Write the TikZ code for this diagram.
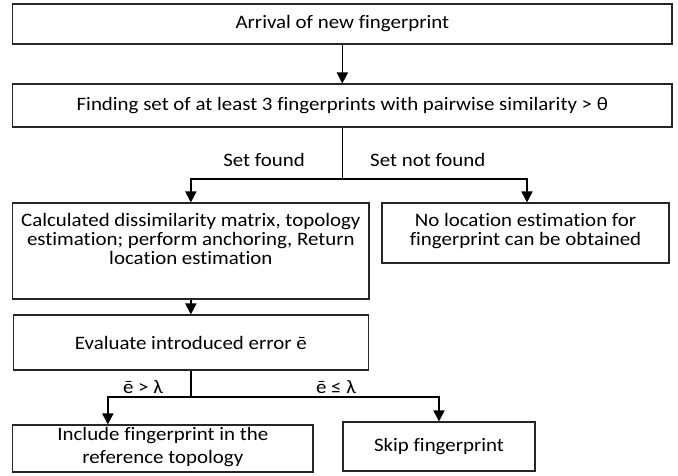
\documentclass[tikz,border=0pt]{standalone}
\usepackage{fontspec}
\setmainfont{Carlito}[FakeStretch=1.1, Ligatures=CommonOff]
\usetikzlibrary{arrows.meta}
\begin{document}
\begin{tikzpicture}[x=1pt,y=-1pt,
  box/.style={draw=black!85, line width=1.1pt, rectangle, inner sep=0pt, align=center,
    font=\fontsize{19}{19}\selectfont},
  txt/.style={inner sep=0pt, align=center, font=\fontsize{19}{19}\selectfont},
  lbl/.style={inner sep=0pt, font=\fontsize{19}{19}\selectfont},
  arr/.style={line width=1.7pt, -{Triangle[width=11pt,length=11pt]}},
  ln/.style={line width=1.7pt}]
\useasboundingbox (0,0) rectangle (678,475);
\node[box, minimum width=659.3pt, minimum height=40pt] (b1) at (342.35,24) {Arrival of new fingerprint};
\node[box, minimum width=659.3pt, minimum height=43pt] (b2) at (342.35,105.5) {Finding set of at least 3 fingerprints with pairwise similarity > θ};
\node[box, minimum width=356.3pt, minimum height=96pt] (b3) at (190.85,251) {};
\node[txt] (t3) at (190.85,239) {Calculated dissimilarity matrix, topology\\estimation; perform anchoring, Return\\location estimation};
\node[box, minimum width=287pt, minimum height=60pt] (b4) at (525.5,233) {};
\node[txt] (t4) at (525.5,231) {No location estimation for\\fingerprint can be obtained};
\node[box, minimum width=355.3pt, minimum height=55pt] (b5) at (190.85,342.5) {Evaluate introduced error ē};
\node[box, minimum width=300.3pt, minimum height=47pt] (b6) at (162.85,448.5) {};
\node[txt, font=\fontsize{19}{23}\selectfont] (t6) at (162.85,447.5) {Include fingerprint in the\\reference topology};
\node[box, minimum width=192pt, minimum height=49pt] (b7) at (439,446.5) {Skip fingerprint};
\node[lbl, anchor=east] (l1) at (305,160) {Set found};
\node[lbl, anchor=west] (l2) at (370,160) {Set not found};
\node[lbl] (l3) at (143,387) {ē > λ};
\node[lbl] (l4) at (336,387) {ē ≤ λ};
\coordinate (j1) at (b2.south |- 0,179);
\coordinate (j2) at (b5.south |- 0,397);
\draw[arr] (b1.south) -- (b2.north);
\draw[ln] (b2.south) -- (j1);
\draw[arr] (j1) -| (b3.north);
\draw[arr] (j1) -| ([xshift=1.5pt]b4.north);
\draw[ln] (b5.south) -- (j2);
\draw[arr] (b3.south) -- (b5.north);
\draw[arr] (j2) -| ([xshift=-55pt]b6.north);
\draw[arr] (j2) -| (b7.north);
\end{tikzpicture}
\end{document}
